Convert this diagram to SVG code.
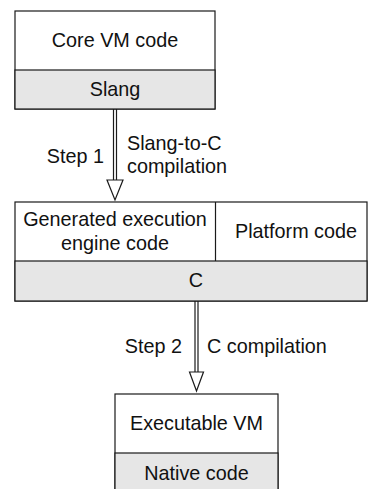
<svg xmlns="http://www.w3.org/2000/svg" width="369" height="489" viewBox="0 0 369 489">
<style>
.box{fill:#ffffff;stroke:#1a1a1a;stroke-width:1.2}
.band{fill:#e6e6e6;stroke:#1a1a1a;stroke-width:1.2}
.div{stroke:#1a1a1a;stroke-width:1.2;fill:none}
text{font-family:"Liberation Sans",Arial,Helvetica,sans-serif;font-size:19.8px;fill:#111}
.c{text-anchor:middle}
.r{text-anchor:end}
.shaft{stroke:#1a1a1a;stroke-width:1.2;fill:none}
.head{fill:#ffffff;stroke:#1a1a1a;stroke-width:1.2}
</style>
<rect width="369" height="489" fill="#ffffff"/>
<g id="core-vm">
<rect class="box" x="15" y="11" width="200" height="98"/>
<rect class="band" x="15" y="70" width="200" height="39"/>
<text class="c" x="115" y="47">Core VM code</text>
<text class="c" x="115" y="96">Slang</text>
</g>
<g id="generated">
<rect class="box" x="15" y="202" width="352" height="99"/>
<rect class="band" x="15" y="261" width="352" height="40"/>
<line class="div" x1="215.5" y1="202" x2="215.5" y2="261"/>
<text class="c" x="115" y="226">Generated execution</text>
<text class="c" x="115" y="250">engine code</text>
<text class="c" x="296" y="238">Platform code</text>
<text class="c" x="196" y="287">C</text>
</g>
<g id="executable">
<rect class="box" x="115" y="394" width="163" height="110"/>
<rect class="band" x="115" y="453" width="163" height="51"/>
<text class="c" x="196.5" y="430">Executable VM</text>
<text class="c" x="196.5" y="480">Native code</text>
</g>
<g id="connectors">
<line class="shaft" x1="113.5" y1="109" x2="113.5" y2="180"/>
<line class="shaft" x1="116.5" y1="109" x2="116.5" y2="180"/>
<polygon class="head" points="107,180 123,180 115,200"/>
<text class="r" x="104" y="163">Step 1</text>
<text x="127" y="150">Slang-to-C</text>
<text x="127" y="173">compilation</text>
<line class="shaft" x1="195" y1="301" x2="195" y2="372"/>
<line class="shaft" x1="198" y1="301" x2="198" y2="372"/>
<polygon class="head" points="189.5,372 203.5,372 196.5,391"/>
<text class="r" x="182" y="353">Step 2</text>
<text x="207" y="353">C compilation</text>
</g>
</svg>
